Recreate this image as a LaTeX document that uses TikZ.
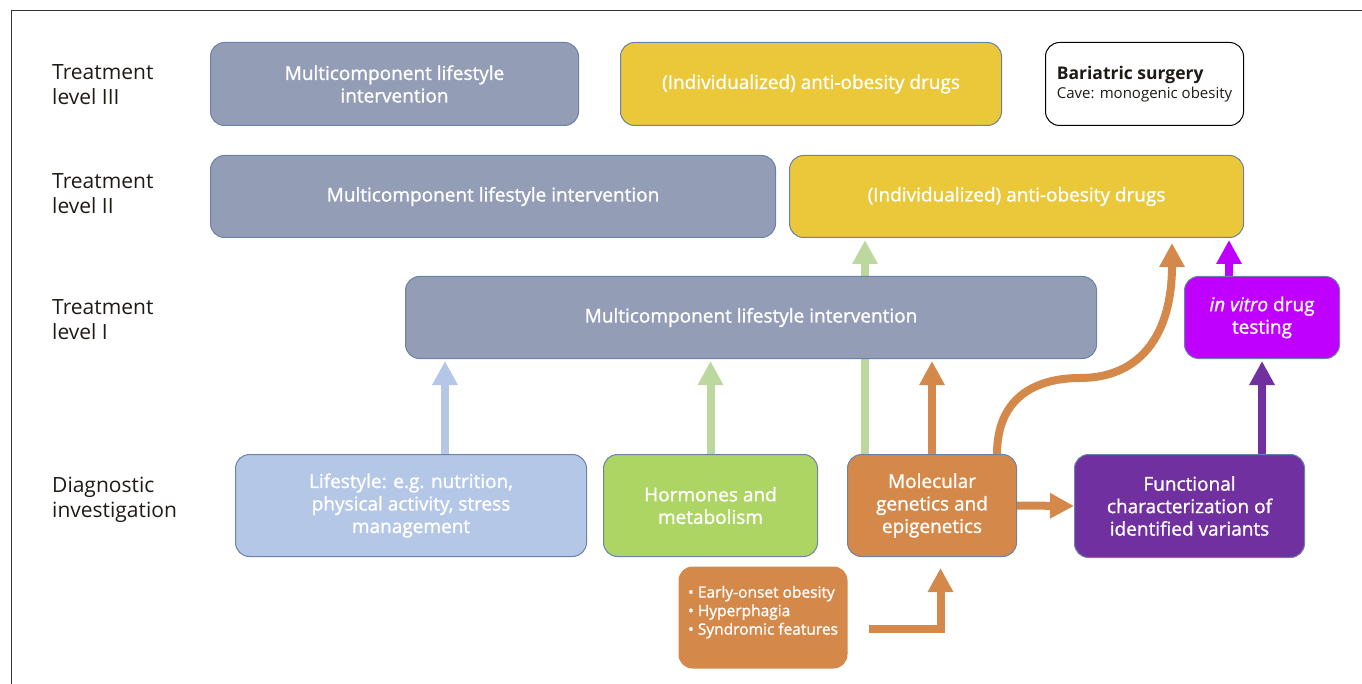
\documentclass[tikz,border=0pt]{standalone}
\usepackage{fontspec}
\setmainfont{Open Sans}
\newfontfamily\boxfont{Open Sans}[FakeBold=1.2]
\usetikzlibrary{arrows.meta,positioning,calc}
\definecolor{slate}{HTML}{939DB5}
\definecolor{boxline}{HTML}{6A82A8}
\definecolor{drugyellow}{HTML}{EAC83A}
\definecolor{lightblue}{HTML}{B4C7E7}
\definecolor{hormgreen}{HTML}{ADD563}
\definecolor{palegreen}{HTML}{BDD89E}
\definecolor{molorange}{HTML}{D4894A}
\definecolor{funcpurple}{HTML}{7030A0}
\definecolor{vitromagenta}{HTML}{BF00FF}
\definecolor{labeltext}{HTML}{1E1B16}
\pgfdeclarelayer{background}
\pgfsetlayers{background,main}
\tikzset{
  box/.style={draw=boxline, line width=1pt, rounded corners=14pt, anchor=north west,
              align=center, text=white, font=\boxfont\fontsize{19}{22.5}\selectfont, inner sep=4pt},
  level/.style={anchor=west, align=left, text=labeltext, font=\fontsize{21}{25}\selectfont, inner sep=0pt},
  blockarrow/.style={line width=8pt, -{Triangle[width=24pt,length=24pt]}, shorten >=2pt},
}

\begin{document}
\begin{tikzpicture}[x=1pt, y=-1pt]
\useasboundingbox (0,0) rectangle (1362,684);

% frame
\draw[line width=1pt, black!80] (11,684) -- (11,11) -- (1362,11);

% row labels
\node[level] (lblIII) at (52,85) {Treatment\\level III};
\node[level] (lblII) at (52,194) {Treatment\\level II};
\node[level] (lblI) at (52,320) {Treatment\\level I};
\node[level] (lbldiag) at (52,500) {Diagnostic\\investigation};

% treatment level III
\node[box, fill=slate, minimum width=368pt, minimum height=83pt] (lifeIII) at (210,42) {Multicomponent lifestyle\\intervention};
\node[box, fill=drugyellow, minimum width=381pt, minimum height=83pt] (drugsIII) at (620,42) {(Individualized) anti-obesity drugs};
\node[box, draw=black, fill=white, text=labeltext, align=left, font=\fontsize{17.5}{22}\selectfont, minimum width=198pt, minimum height=83pt] (bariatric) at (1045,42)
  {\textbf{Bariatric surgery}\\[-3pt]{\fontsize{15}{18}\selectfont Cave: monogenic obesity}};

% treatment level II
\node[box, fill=slate, minimum width=565pt, minimum height=82pt] (lifeII) at (210,155) {Multicomponent lifestyle intervention};
\node[box, fill=drugyellow, minimum width=454pt, minimum height=82pt] (drugsII) at (789,155) {(Individualized) anti-obesity drugs};

% treatment level I
\node[box, fill=slate, minimum width=691pt, minimum height=82pt] (lifeI) at (405,276) {Multicomponent lifestyle intervention};
\node[box, fill=vitromagenta, minimum width=155pt, minimum height=82pt] (vitro) at (1184,276) {\textit{in vitro} drug\\testing};

% diagnostic investigation
\node[box, fill=lightblue, minimum width=351pt, minimum height=102pt] (diaglife) at (235,454) {Lifestyle: e.g. nutrition,\\physical activity, stress\\management};
\node[box, fill=hormgreen, minimum width=214pt, minimum height=102pt] (hormones) at (603,454) {Hormones and\\metabolism};
\node[box, fill=molorange, minimum width=169pt, minimum height=102pt] (mol) at (847,454) {Molecular\\genetics and\\epigenetics};
\node[box, fill=funcpurple, minimum width=230pt, minimum height=103pt] (func) at (1074,454) {Functional\\characterization of\\identified variants};
\node[box, draw=none, fill=molorange, align=left, font=\boxfont\fontsize{15.5}{18.5}\selectfont, minimum width=169pt, minimum height=102pt] (early) at (678,566)
  {\textbullet\ Early-onset obesity\\\textbullet\ Hyperphagia\\\textbullet\ Syndromic features\\[-4pt]};

\coordinate (elbowstart) at (869,629);

% arrows
\begin{pgfonlayer}{background}
\draw[blockarrow, draw=lightblue] (445,0 |- diaglife.north) -- (445,0 |- lifeI.south);
\draw[blockarrow, draw=palegreen] (hormones.north) -- (hormones.north |- lifeI.south);
\draw[blockarrow, draw=palegreen] (865,0 |- mol.north) -- (865,0 |- drugsII.south);
\draw[blockarrow, draw=molorange] (mol.north) -- (mol.north |- lifeI.south);
\draw[blockarrow, draw=molorange, shorten >=5pt] (997,0 |- mol.north) .. controls (997,398) and (1035,378) .. (1080,378)
  .. controls (1140,378) and (1172,335) .. (1172,0 |- drugsII.south);
\draw[blockarrow, draw=vitromagenta] (1229,0 |- vitro.north) -- (1229,0 |- drugsII.south);
\draw[blockarrow, draw=funcpurple] (vitro.south |- func.north) -- (vitro.south);
\draw[blockarrow, draw=molorange, shorten >=0pt] (mol.east) -- (func.west);
\draw[blockarrow, draw=molorange] (elbowstart) -| ([xshift=8.5pt,yshift=-9pt]mol.south);
\end{pgfonlayer}

\end{tikzpicture}
\end{document}
